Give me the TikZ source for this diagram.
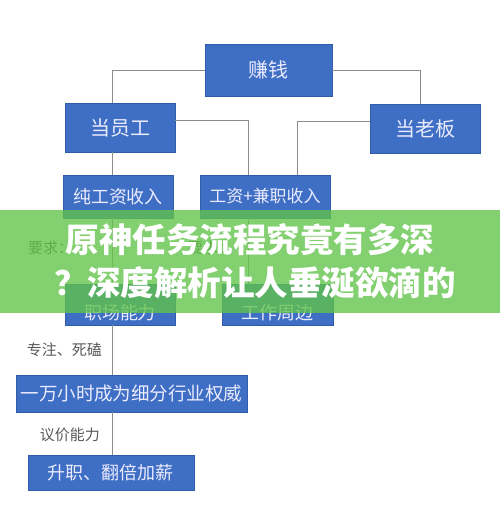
\documentclass[tikz,border=0pt]{standalone}
\usepackage{fontspec}
\setmainfont{Noto Sans CJK SC}
\usetikzlibrary{positioning}

\definecolor{boxblue}{RGB}{63,111,196}
\definecolor{boxedge}{RGB}{48,92,170}
\definecolor{linegray}{RGB}{140,140,140}
\definecolor{labelgray}{RGB}{90,90,90}
\definecolor{bandgreen}{RGB}{97,196,72}

\begin{document}
\begin{tikzpicture}[
  x=1pt, y=-1pt,
  bbox/.style={rectangle, fill=boxblue, draw=boxedge, line width=0.6pt, inner sep=0pt,
    text=white!92!blue, font=\fontsize{18}{18}\selectfont},
  btxt/.style={inner sep=0pt, text=white!92!blue, font=\fontsize{18}{18}\selectfont},
  lbl/.style={text=labelgray, inner sep=0pt, font=\fontsize{15}{15}\selectfont},
  conn/.style={-, draw=linegray, line width=0.8pt},
  band/.style={fill=bandgreen, opacity=0.78},
  title/.style={text=white, inner sep=0pt, font=\fontsize{33.5}{33.5}\selectfont\bfseries}
  ]

\useasboundingbox [fill=white] (0,0) rectangle (500,523);

% spines of the connectors
\coordinate (sp1) at (112,0);
\coordinate (sp2) at (248,0);
\coordinate (sp3) at (297,0);
\coordinate (sp4) at (420,0);

% top level
\node [bbox, minimum width=127pt, minimum height=52pt, font=\fontsize{20}{20}\selectfont] (earn) at (268.5,70) {赚钱};
\node [bbox, minimum width=110pt, minimum height=49pt, font=\fontsize{20}{20}\selectfont] (emp) at (120,127.5) {当员工};
\node [bbox, minimum width=110pt, minimum height=49pt, font=\fontsize{20}{20}\selectfont] (boss) at (425,128.5) {当老板};

% income
\node [bbox, minimum width=110pt, minimum height=43pt] (wage) at (118,196.5) {纯工资收入};
\node [bbox, minimum width=130pt, minimum height=43pt, font=\fontsize{17}{17}\selectfont] (both) at (265,196.5) {工资+兼职收入};

\node [lbl, anchor=west] (req1) at (28,248) {要求：};
\node [lbl, anchor=west] (req2) at (188,248) {要求：};

\node [bbox, minimum width=110pt, minimum height=41pt] (skill) at (120,304.5) {};
\node [btxt, above=4pt of skill.south] (skilltxt) {职场能力};
\node [bbox, minimum width=111pt, minimum height=41pt] (around) at (277.5,304.5) {};
\node [btxt, above=4pt of around.south] (aroundtxt) {工作周边};

% career path
\node [lbl, anchor=east] (focus) at (102,350) {专注、死磕};
\node [bbox, minimum width=231pt, minimum height=37pt, font=\fontsize{18.5}{18.5}\selectfont] (expert) at (131.5,393.5) {一万小时成为细分行业权威};
\node [lbl, anchor=east] (price) at (100,435) {议价能力};
\node [bbox, minimum width=166pt, minimum height=35pt] (raise) at (111,472.5) {升职、翻倍加薪};

% connectors
\draw [conn] (earn.west) -| (emp.north -| sp1);
\draw [conn] (earn.east) -| (boss.north -| sp4);
\draw [conn] ([yshift=7pt]emp.east) -| (both.north -| sp2);
\draw [conn] ([yshift=7pt]boss.west) -| (both.north -| sp3);
\draw [conn] (emp.south -| sp1) -- (wage.north -| sp1);
\draw [conn] (wage.south -| sp1) -- (skill.north -| sp1);
\draw [conn] (both.south -| sp2) -- (around.north -| sp2);
\draw [conn] (skill.south -| sp1) -- (expert.north -| sp1);
\draw [conn] (expert.south -| sp1) -- (raise.north -| sp1);

% overlay banner
\fill [band] (0,210) rectangle (500,313);
\node [title] (t1) at (250,240) {原神任务流程究竟有多深};
\node [title] (t2) at (255,283) {？深度解析让人垂涎欲滴的};

\end{tikzpicture}
\end{document}
